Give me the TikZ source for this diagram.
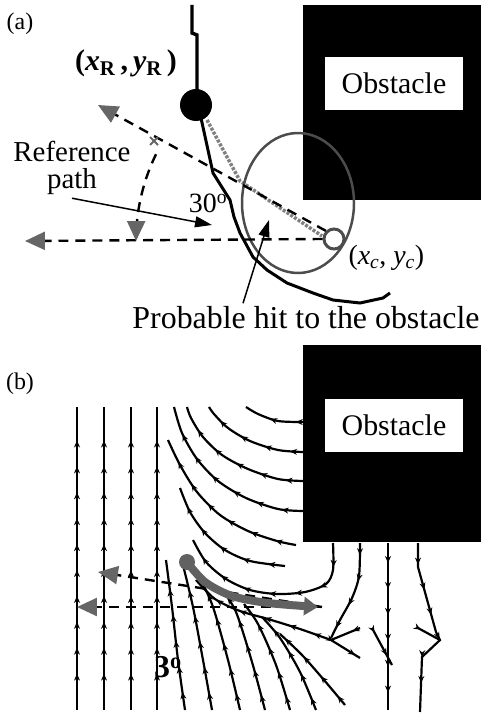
\documentclass[tikz,border=0pt]{standalone}
\usepackage{fontspec}
\setmainfont{Liberation Serif}
\usetikzlibrary{arrows.meta, decorations.markings, positioning}

\definecolor{tipgray}{gray}{0.4}
\definecolor{ringgray}{gray}{0.3}
\definecolor{trackgray}{gray}{0.38}
\definecolor{altgray}{gray}{0.5}

\tikzset{
  obslabel/.style={fill=white, minimum width=138bp, minimum height=53bp, inner sep=0pt,
    font=\fontsize{30}{30}\selectfont},
  refdash/.style={line width=2.4pt, dash pattern=on 10pt off 7pt,
    -{Triangle[length=20pt, width=18pt, color=tipgray]}},
  pointer/.style={line width=1.5pt, -{Triangle[length=17pt, width=11pt]}},
  flowline/.style={line width=2.2pt, postaction={decorate},
    decoration={markings,
      mark=between positions 0.12 and 0.96 step 26pt with {\arrow{Stealth[length=7pt, width=6pt]}}}},
}

\begin{document}
\begin{tikzpicture}[x=1bp, y=-1bp]
\useasboundingbox (0,0) rectangle (481,715);

% ---------------- panel (a) ----------------
\node[font=\fontsize{24}{24}\selectfont] (labA) at (20,24) {(a)};

% Obstacle
\fill[black] (303,5) rectangle (481,200);
\node[obslabel] (obsA) at (394,83.5) {Obstacle};

% Robot path so far and robot position
\draw[line width=3.5pt] (192,5) -- (192,33) -- (197,35) -- (197,100);
\node[circle, fill=black, minimum size=32bp, inner sep=0pt] (robotA) at (196,105) {};
\node[font=\fontsize{30}{30}\selectfont\bfseries] (robLab) at (126,63)
  {(\textit{x}\textsubscript{R}\,,\,\textit{y}\textsubscript{R}\,)};

% Possible paths
\draw[line width=3pt] (201,118) -- (213,173) -- (230,200) -- (234,217) -- (240,233)
  -- (253,257) -- (267,270) -- (287,283) -- (313,293) -- (333,300) -- (360,303)
  -- (383,298) -- (390,293);
\draw[line width=3.5pt, altgray, dash pattern=on 3pt off 1.5pt]
  (207,120) -- (240,181) -- (322,236);

% Uncertainty ellipse
\draw[ringgray, line width=2.5pt] (298,203) ellipse [x radius=56, y radius=70];

% Target point
\node[circle, draw=ringgray, line width=3pt, fill=white, minimum size=20bp, inner sep=0pt]
  (goalA) at (334,239) {};
\node[font=\fontsize{28}{28}\selectfont, anchor=west] (goalLab) at (345,258)
  {(\textit{x}\textsubscript{\textit{c}}, \textit{y}\textsubscript{\textit{c}})};

% Reference directions
\coordinate (leftA) at (25,241);
\coordinate (tiltA) at (98,105);
\draw[refdash] (goalA.west) -- (leftA);
\draw[refdash] (goalA.north west) -- (tiltA);
\draw[refdash] plot[domain=206:180, samples=30] ({334+198*cos(\x)},{241+198*sin(\x)});
\draw[tipgray, line width=2pt] (150,137) -- (158,145) (150,145) -- (158,137);
\node[font=\fontsize{28}{28}\selectfont] (angA) at (208,203) {30\textsuperscript{o}};

% Labels with pointers
\node[align=center, font=\fontsize{29}{27}\selectfont] (refA) at (72,168) {Reference\\path};
\coordinate (refTip) at (212,225);
\draw[pointer] (refA.south) -- (refTip);

\node[font=\fontsize{32}{32}\selectfont] (hitA) at (306,318) {Probable hit to the obstacle};
\coordinate (hitTip) at (269,220);
\draw[pointer] ([xshift=-63bp]hitA.north) -- (hitTip);

% ---------------- panel (b) ----------------
\node[font=\fontsize{24}{24}\selectfont] (labB) at (20,384) {(b)};

% Field lines, far left
\foreach \x in {77,104,131,157}
  \draw[flowline] (\x,710) -- (\x,407);

% Field lines leaving the obstacle face
\draw[flowline] plot[smooth] coordinates {(303,422) (278,421) (258,414) (246,407)};
\draw[flowline] plot[smooth] coordinates {(303,452) (278,450) (250,441) (228,428) (214,414) (209,407)};
\draw[flowline] plot[smooth] coordinates {(303,481) (278,479) (248,469) (222,455) (203,437) (191,418) (187,407)};
\draw[flowline] plot[smooth] coordinates {(303,511) (278,509) (246,498) (218,481) (197,459) (182,433) (174,407)};
\draw[flowline] plot[smooth] coordinates {(296,545) (277,541) (248,531) (220,515) (197,492) (180,465) (168,440)};
\draw[flowline] plot[smooth] coordinates {(285,566) (250,561) (225,550) (205,533) (190,512) (180,488)};

% Field lines below the obstacle
\draw[flowline] plot[smooth] coordinates {(333,543) (333,570) (326,584) (305,592) (277,594) (250,590) (226,579) (206,562) (193,540)};
\draw[flowline] plot[smooth] coordinates {(360,543) (359,576) (352,598) (340,620) (331,638)};
\draw[flowline] (388,543) -- (388,710);
\draw[flowline] plot coordinates {(418,543) (418,567) (436,632) (440,640) (422,657) (420,712)};
\draw[flowline] (418,628) -- (440,640);
\draw[flowline] (372,628) -- (392,665);
\draw[flowline] (360,628) -- (331,640) -- (360,658);

% Field lines from below
\draw[flowline] plot[smooth] coordinates {(331,640) (300,629) (268,619) (240,611) (215,599) (196,580)};
\draw[flowline] plot[smooth] coordinates {(185,710) (178,660) (172,607) (166,560)};
\draw[flowline] plot[smooth] coordinates {(212,710) (203,660) (193,607) (183,565)};
\draw[flowline] plot[smooth] coordinates {(240,710) (228,660) (213,607) (200,578)};
\draw[flowline] plot[smooth] coordinates {(265,710) (252,662) (236,612) (222,590)};
\draw[flowline] plot[smooth] coordinates {(290,710) (276,665) (258,624) (244,604)};
\draw[flowline] plot[smooth] coordinates {(316,710) (300,672) (280,638) (262,617)};
\draw[flowline] plot[smooth] coordinates {(345,705) (324,680) (302,655) (280,634)};

% Obstacle
\fill[black] (303,345) rectangle (481,542);
\node[obslabel] (obsB) at (394,425) {Obstacle};

% Reference directions
\coordinate (goalB) at (322,607);
\coordinate (leftB) at (77,607);
\coordinate (tiltB) at (98,572);
\draw[refdash] (goalB) -- (leftB);
\draw[refdash] (goalB) -- (tiltB);

% Robot track
\node[circle, fill=trackgray, minimum size=16bp, inner sep=0pt] (robotB) at (187,562) {};
\draw[trackgray, line width=8pt, -{Triangle[length=14pt, width=18pt]}]
  plot[smooth] coordinates {(187,562) (205,582) (232,596) (268,603) (318,607)};
\node[font=\fontsize{32}{32}\selectfont\bfseries] (angB) at (168,667) {3\textsuperscript{o}};

\end{tikzpicture}
\end{document}
